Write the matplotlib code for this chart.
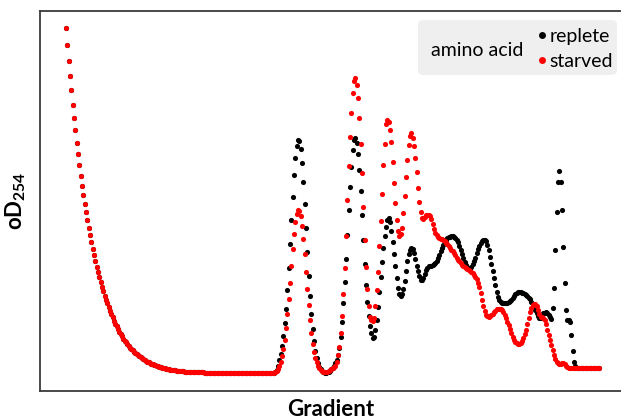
import matplotlib
matplotlib.use("Agg")
import matplotlib.pyplot as plt
import numpy as np
from matplotlib.lines import Line2D
from matplotlib.patches import FancyBboxPatch

plt.rcParams['font.family'] = ['Lato', 'DejaVu Sans']
plt.rcParams['mathtext.fontset'] = 'custom'
plt.rcParams['mathtext.rm'] = 'Lato'
plt.rcParams['mathtext.bf'] = 'Lato:bold'

# OD254 trace, one reading per fraction step; both samples share the top of the gradient
shared_start = [
    362.7, 346, 330, 315, 300.5, 286, 273, 260.5, 248, 236.5,
    225.5, 215, 205, 196, 187, 178.5, 170.5, 163, 155.5, 148.5,
    142, 135.7, 129.7, 124, 118.7, 113.7, 108.7, 104, 99.7, 95.5,
    91.5, 87.7, 84, 80.5, 77.2, 74, 70.5, 67.5, 64.7, 62,
    59.5, 57, 54.7, 52.5, 50.5, 48.6, 46.8, 45.1, 43.5, 42,
    40.6, 39.3, 38.1, 36.9, 35.8, 34.7, 33.7, 32.7, 31.8, 30.9,
    30.1, 29.3, 28.6, 27.9, 27.3, 26.7, 26.1, 25.6, 25.1, 24.6,
    24.2, 23.8, 23.4, 23, 22.7, 22.4, 22.1, 21.8, 21.5, 21.3,
    21.1, 20.9, 20.7, 20.5, 20.3, 20.1, 20, 19.8, 19.7, 19.5,
    19.4, 19.3, 19.2, 19.1, 19.0, 19.0, 18.9, 18.9, 18.8, 18.8,
    18.7, 18.7, 18.6, 18.6, 18.5, 18.5, 18.4, 18.4, 18.3, 18.3,
    18.2, 18.2, 18.1, 18.1, 18.0, 18.0, 17.9, 17.9, 17.8, 17.8,
    17.7, 17.7, 17.7, 17.7, 17.7, 17.7, 17.7, 17.7, 17.7, 17.7,
    17.7, 17.7, 17.7, 17.7, 17.7, 17.7, 17.7, 17.7, 17.7, 17.7,
    17.7, 17.7, 17.7, 17.7, 17.7, 17.7, 17.7, 17.7, 17.7, 17.7,
    17.7, 17.7, 17.7, 17.7, 17.7,
]

replete_rest = [
    17.7, 18, 19, 21.5, 25.5, 31, 37.5, 45, 55, 68,
    82, 101, 123, 147, 171, 194, 216, 233, 245, 250.5,
    249.5, 242, 228, 209, 187, 162.5, 138.5, 115.5, 95, 77,
    62, 50, 40.5, 33.5, 28.5, 24.5, 21.7, 20, 19, 18.5,
    18.5, 18.8, 19.5, 20.5, 22, 23.5, 25.5, 28, 31, 36,
    43, 54, 69, 88, 109, 132, 156, 181, 204, 224,
    241, 250.5, 252.5, 248, 237, 221, 200, 176, 151, 127,
    106, 89, 75, 65, 58, 53.5, 54.5, 61, 71, 84.5,
    99, 114, 129, 143, 155, 164, 171, 172.5, 168.5, 160,
    149, 137, 125, 113, 103, 97, 95.5, 97.5, 102.5, 110.5,
    120, 130, 137, 141, 142.5, 142, 138, 132, 125.5, 120,
    115, 111.5, 111, 113.5, 117.5, 121, 123.5, 125, 125.5, 125.5,
    126, 127, 128.5, 130.5, 133, 136, 139.5, 143, 146, 149,
    151, 152.5, 153.5, 154, 154.5, 154.5, 154, 153, 151, 148.5,
    145, 141, 137, 133, 129, 126, 123.5, 122.5, 123, 124.5,
    127, 130, 133.5, 137.5, 141.5, 145, 148, 150, 151, 151,
    149.5, 146, 141, 134.5, 127, 120, 113, 106, 99, 94,
    91, 89.5, 88.5, 88, 88, 88, 88.5, 89, 90, 91.5,
    93.5, 95.5, 97.5, 98.5, 99.5, 99.5, 99, 98.5, 98, 97,
    96, 95, 93.5, 92, 89.5, 87, 84, 81, 78, 75,
    73, 73.5, 76, 78, 78, 79, 78, 76, 74, 72,
    83, 103, 141, 179, 209, 220, 209, 181, 144, 108,
    81, 71, 71, 69, 56, 40.3, 29.3, 25, 23, 22.7,
    22.7, 22.7, 22.7, 22.7, 22.7, 22.7, 22.7, 22.7, 22.7, 22.7,
    22.7, 22.7, 22.7, 22.7, 22.7, 22.7,
]

starved_rest = [
    18, 18.3, 19, 20, 22, 25, 29, 35, 42, 51,
    63, 77, 92, 108.5, 125.5, 142, 157, 169, 177, 180.5,
    180, 175, 165, 152, 136.5, 119.5, 102.5, 86, 71.5, 58.5,
    47.5, 39.5, 33.5, 29, 25.5, 23, 21, 19.7, 19, 18.7,
    18.7, 19.2, 20, 21, 22, 23, 24, 25, 29, 36,
    44, 58, 75, 97, 123, 155, 191, 225, 254, 278,
    298, 310, 312.5, 306, 293, 273, 247, 218, 184, 151,
    124, 102, 85, 74.5, 71, 70, 73, 85, 101, 119,
    145, 170, 197, 226, 247, 267, 270.5, 268.5, 261, 249,
    229, 208, 188, 171, 159.5, 155, 157, 163, 178, 195,
    214, 231, 246, 255, 258, 253, 245, 233, 219, 203,
    189, 178.5, 173, 172, 174, 175.5, 176, 176, 174.5, 171.5,
    167, 162, 158, 155.5, 154, 153, 152, 151.5, 150.5, 149.5,
    148, 146.5, 145, 143, 141, 139.5, 137.5, 135.5, 133.5, 131.5,
    130, 128, 126.5, 125, 124, 123, 122, 121, 120, 119,
    118, 116.5, 114.5, 112, 108, 104, 98, 91, 85, 80,
    76.5, 75, 74.5, 75, 76, 77.5, 79, 80.5, 82, 82.5,
    82.5, 82, 81, 79, 76, 73, 69.5, 66, 62, 58,
    54.5, 51.5, 49.5, 48, 47.5, 47.5, 48.5, 50.5, 53.5, 57,
    61.5, 67, 73, 79, 83.5, 86, 87.5, 87, 85, 81,
    77, 74.5, 74, 73.5, 71.5, 67, 61.5, 56, 51, 46,
    41, 36, 32, 29.5, 28, 27.5, 27.5, 28, 28, 27,
    25.5, 24.2, 23.3, 22.8, 22.7, 22.7, 22.7, 22.7, 22.7, 22.7,
    22.7, 22.7, 22.7, 22.7, 22.7, 22.7, 22.7, 22.7, 22.7, 22.7,
    22.7, 22.7, 22.7, 22.7, 22.7, 22.7,
]

replete = shared_start + replete_rest
starved = shared_start + starved_rest

fig = plt.figure(figsize=(6.21, 4.19), dpi=100)
ax = fig.add_axes([40 / 621, 28 / 419, 581 / 621, 380 / 419])

ax.plot(np.arange(len(replete)), replete, 'o', color='black', ms=3.7, mew=0)
ax.plot(np.arange(len(starved)), starved, 'o', color='#ff0000', ms=3.7, mew=0)

ax.set_xlim(-19.5, 416.25)
ax.set_ylim(0, 380)
ax.set_xticks([])
ax.set_yticks([])
ax.spines['right'].set_visible(False)
for s in ['top', 'left', 'bottom']:
    ax.spines[s].set_color('#3a3a3a')
    ax.spines[s].set_linewidth(1.3)

ax.set_xlabel('Gradient', fontsize=16, fontweight='bold')
ax.xaxis.set_label_coords(0.5, -0.02)
ax.set_ylabel(r'$\mathbf{oD_{254}}$', fontsize=16)
ax.yaxis.set_label_coords(-0.02, 0.5)

# legend: grey rounded box with the group name on the left
bg = FancyBboxPatch((418 / 621, 344 / 419), 199 / 621, 55 / 419,
                    boxstyle='round,pad=0,rounding_size=0.01',
                    transform=fig.transFigure, facecolor='#efefef',
                    edgecolor='none', zorder=5, clip_on=False)
ax.add_patch(bg)
ax.text(431 / 621, 369 / 419, 'amino acid', fontsize=14, va='center', ha='left',
        transform=fig.transFigure, zorder=6)

handles = [Line2D([], [], marker='o', ls='none', color='black', ms=5, mew=0),
           Line2D([], [], marker='o', ls='none', color='#ff0000', ms=5, mew=0)]
leg = ax.legend(handles, ['replete', 'starved'], loc='upper left',
                bbox_to_anchor=(537 / 621, 391 / 419), bbox_transform=fig.transFigure,
                frameon=False, fontsize=14, handlelength=0.5, handletextpad=0.15,
                labelspacing=0.42, borderpad=0, borderaxespad=0)
leg.set_zorder(7)

fig.savefig('out.png', dpi=100)
